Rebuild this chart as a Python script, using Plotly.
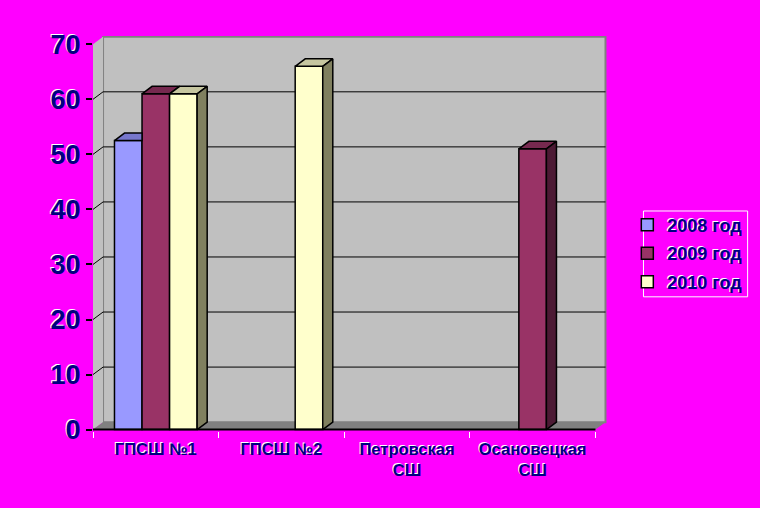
import plotly.graph_objects as go

categories = ["ГПСШ №1", "ГПСШ №2", "Петровская<br>СШ", "Осановецкая<br>СШ"]
series_names = ["2008 год", "2009 год", "2010 год"]
values_2008 = [52.5, None, None, None]
values_2009 = [61, None, None, 51]
values_2010 = [61, 66, None, None]
y_ticks = [0, 10, 20, 30, 40, 50, 60, 70]

series_values = [values_2008, values_2009, values_2010]
front_colors = ["#9999FF", "#993366", "#FFFFCC"]
top_colors = ["#7777CC", "#76294F", "#C6C6A0"]
side_colors = ["#5C5C99", "#4C1A34", "#80805F"]

MAGENTA = "#FF00FF"
NAVY = "#000080"
FONT = "Liberation Sans"
SHADOW = "-1px -1px 0px #FFFFFF"

DX = 0.08   # depth offset in x units
DY = 1.36   # depth offset in y units
BARGAP = 0.342
x_pos = list(range(len(categories)))

fig = go.Figure()

# front faces of bars
for name, vals, col in zip(series_names, series_values, front_colors):
    fig.add_trace(go.Bar(
        x=x_pos, y=vals, name=name, marker=dict(color=col, line=dict(color="black", width=1.5)),
        legendgroup=name, hoverinfo="skip"))

# 3D top and side faces computed from the data
n = len(series_names)
w = (1 - BARGAP) / n
for c in x_pos:
    for s in range(n):
        v = series_values[s][c]
        if v is None:
            continue
        x0 = c - (1 - BARGAP) / 2 + s * w
        x1 = x0 + w
        nxt = series_values[s + 1][c] if s + 1 < n else None
        if nxt is not None and nxt > v:
            tx = [x0, x1, x1, x0 + DX, x0]
            ty = [v, v, v + DY, v + DY, v]
        else:
            tx = [x0, x1, x1 + DX, x0 + DX, x0]
            ty = [v, v, v + DY, v + DY, v]
        fig.add_trace(go.Scatter(x=tx, y=ty, fill="toself", fillcolor=top_colors[s], mode="lines",
                                 line=dict(color="black", width=1.5), showlegend=False, hoverinfo="skip"))
        lo = nxt if nxt is not None else 0
        if lo < v:
            sx = [x1, x1, x1 + DX, x1 + DX, x1]
            sy = [lo, v, v + DY, lo + DY, lo]
            fig.add_trace(go.Scatter(x=sx, y=sy, fill="toself", fillcolor=side_colors[s], mode="lines",
                                     line=dict(color="black", width=1.5), showlegend=False, hoverinfo="skip"))

xl, xr = -0.5, len(categories) - 0.5
ymax = y_ticks[-1]
shapes = []
# back wall
shapes.append(dict(type="rect", xref="x", yref="y", x0=xl + DX, x1=xr + DX, y0=DY, y1=ymax + DY,
                   fillcolor="#C0C0C0", line=dict(color="#808080", width=2), layer="below"))
# side wall
shapes.append(dict(type="path", xref="x", yref="y",
                   path=f"M {xl},0 L {xl},{ymax} L {xl+DX},{ymax+DY} L {xl+DX},{DY} Z",
                   fillcolor="#C0C0C0", line=dict(width=0), layer="below"))
# floor
shapes.append(dict(type="path", xref="x", yref="y",
                   path=f"M {xl},0 L {xr},0 L {xr+DX},{DY} L {xl+DX},{DY} Z",
                   fillcolor="#808080", line=dict(width=0), layer="below"))
# gridlines
for t in y_ticks[1:-1]:
    shapes.append(dict(type="path", xref="x", yref="y",
                       path=f"M {xl},{t} L {xl+DX},{t+DY} L {xr+DX},{t+DY}",
                       line=dict(color="black", width=1), layer="below"))
# front edge
shapes.append(dict(type="line", xref="x", yref="y", x0=xl, x1=xr, y0=0, y1=0,
                   line=dict(color="black", width=2), layer="above"))
# legend frame
shapes.append(dict(type="rect", xref="paper", yref="paper", x0=1.0689, x1=1.2711, y0=0.3397, y1=0.557,
                   line=dict(color="white", width=1), fillcolor="rgba(0,0,0,0)", layer="above"))

fig.update_layout(
    width=760, height=508,
    paper_bgcolor=MAGENTA, plot_bgcolor="rgba(0,0,0,0)",
    margin=dict(l=93, r=152.45, t=35.75, b=76.6, autoexpand=False),
    barmode="group", bargap=BARGAP, bargroupgap=0,
    shapes=shapes,
    font=dict(family=FONT, color=NAVY, weight="bold", shadow=SHADOW),
    showlegend=True,
    legend=dict(x=1.0375, y=0.568, xanchor="left", yanchor="top",
                font=dict(size=18, family=FONT, color=NAVY, weight="bold", shadow=SHADOW),
                bgcolor="rgba(0,0,0,0)", borderwidth=0,
                tracegroupgap=2, traceorder="grouped"),
    xaxis=dict(range=[xl, xr + 0.1], tickvals=x_pos, ticktext=categories, ticks="",
               showgrid=False, zeroline=False, showline=False, ticklabelstandoff=6,
               tickfont=dict(size=16.5, family=FONT, color=NAVY, weight="bold", shadow=SHADOW),
               minor=dict(ticks="outside", tick0=-0.5, dtick=1, ticklen=6, tickcolor="white",
                          tickwidth=1, showgrid=False)),
    yaxis=dict(range=[-0.25, 71.5], tickvals=y_ticks, ticks="outside", ticklen=6, tickcolor="black",
               tickwidth=2, showgrid=False, zeroline=False, showline=False, ticklabelstandoff=0,
               tickfont=dict(size=27, family=FONT, color=NAVY, weight="bold", shadow=SHADOW)),
)

fig.write_html("out.html", config={"displayModeBar": False},
               post_script="document.body.style.margin='0';document.body.style.padding='0';"
                           "document.body.style.background='#FF00FF';")
